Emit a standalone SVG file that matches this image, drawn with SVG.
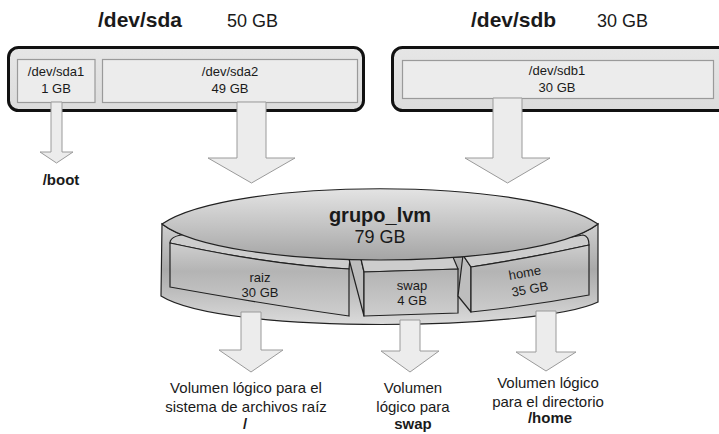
<svg xmlns="http://www.w3.org/2000/svg" width="719" height="434" viewBox="0 0 719 434">
<defs>
<linearGradient id="gSide" gradientUnits="userSpaceOnUse" x1="0" y1="224" x2="0" y2="332">
<stop offset="0" stop-color="#cfcfcf"/><stop offset="0.42" stop-color="#a9a9a9"/><stop offset="1" stop-color="#e2e2e2"/>
</linearGradient>
<linearGradient id="gBox" gradientUnits="userSpaceOnUse" x1="0" y1="240" x2="0" y2="318">
<stop offset="0" stop-color="#d2d2d2"/><stop offset="0.4" stop-color="#b4b4b4"/><stop offset="1" stop-color="#cfcfcf"/>
</linearGradient>
<linearGradient id="gTop" gradientUnits="userSpaceOnUse" x1="0" y1="188" x2="0" y2="262">
<stop offset="0" stop-color="#e4e4e4"/><stop offset="0.5" stop-color="#c4c4c4"/><stop offset="1" stop-color="#a3a3a3"/>
</linearGradient>
<linearGradient id="gDisk" x1="0" y1="0" x2="0" y2="1">
<stop offset="0" stop-color="#e6e6e6"/><stop offset="1" stop-color="#dcdcdc"/>
</linearGradient>
</defs>
<style>
text{font-family:"Liberation Sans",Arial,sans-serif;fill:#1a1a1a}
.b{font-weight:bold}
.m{text-anchor:middle}
.disk{fill:url(#gDisk);stroke:#111;stroke-width:3}
.part{fill:#ececec;stroke:#9a9a9a;stroke-width:1.2}
.arr{fill:#ececec;stroke:#9a9a9a;stroke-width:1}
</style>

<g id="disk-sda">
<rect class="disk" x="8.5" y="47.5" width="355" height="63" rx="10"/>
<text class="b" x="98" y="27" font-size="21">/dev/sda</text>
<text x="227" y="27" font-size="18">50 GB</text>
</g>
<g id="sda1">
<rect class="part" x="17.5" y="59.5" width="77.5" height="43"/>
<text class="m" x="56" y="76" font-size="13">/dev/sda1</text>
<text class="m" x="56" y="93" font-size="13">1 GB</text>
</g>
<g id="sda2">
<rect class="part" x="102.5" y="59.5" width="255" height="43"/>
<text class="m" x="230" y="76" font-size="13">/dev/sda2</text>
<text class="m" x="230" y="93" font-size="13">49 GB</text>
</g>

<g id="disk-sdb">
<rect class="disk" x="392.5" y="47.5" width="340" height="63" rx="10"/>
<text class="b" x="471" y="27" font-size="21">/dev/sdb</text>
<text x="597" y="27" font-size="18">30 GB</text>
</g>
<g id="sdb1">
<rect class="part" x="402.5" y="60.5" width="311" height="38"/>
<text class="m" x="557" y="75" font-size="13">/dev/sdb1</text>
<text class="m" x="557" y="92" font-size="13">30 GB</text>
</g>

<g id="grupo_lvm">
<path d="M162,224 C225,272 535,272 598,224 L598,302 C540,330 225,336 161,296 Z" fill="url(#gSide)" stroke="#222" stroke-width="1.2"/>
</g>

<g id="lv-raiz">
<path d="M170,243 C170,236 180,234 195,234 L350,258 L349,269 Q270,265 170,243 Z" fill="#cdcdcd" stroke="#222" stroke-width="1.2"/>
<path d="M170,243 Q270,265 349,269 L349,316 Q270,305 170,287 Z" fill="url(#gBox)" stroke="#222" stroke-width="1.2"/>
<text class="m" x="260" y="282" font-size="13">raiz</text>
<text class="m" x="260" y="297" font-size="13">30 GB</text>
</g>

<g id="lv-swap">
<path d="M349,259 L361,259 L364,272 L364,316 Z" fill="#bdbdbd" stroke="#222" stroke-width="1.2" stroke-linejoin="round"/>
<path d="M361,259 L453,257 L458,269 L364,272 Z" fill="#cdcdcd" stroke="#222" stroke-width="1.2"/>
<path d="M364,272 L458,269 L458,313 L364,316 Z" fill="url(#gBox)" stroke="#222" stroke-width="1.2"/>
<text class="m" x="412" y="290" font-size="13">swap</text>
<text class="m" x="412" y="305" font-size="13">4 GB</text>
</g>

<g id="lv-home">
<path d="M463,255 L471,267 L471,312 L458,296 Z" fill="#bdbdbd" stroke="#222" stroke-width="1.2" stroke-linejoin="round"/>
<path d="M463,255 Q520,247 583,235 Q589,236 589,245 Q530,258 471,267 Z" fill="#cdcdcd" stroke="#222" stroke-width="1.2"/>
<path d="M471,267 Q530,258 589,245 L589,295 Q530,306 471,312 Z" fill="url(#gBox)" stroke="#222" stroke-width="1.2"/>
<text class="m" transform="rotate(-10 527 285)" x="527" y="277" font-size="13">home</text>
<text class="m" transform="rotate(-10 527 285)" x="529" y="294" font-size="13">35 GB</text>
</g>

<g id="lvm-top">
<path d="M162,224 C230,177 530,177 598,224 C535,272 225,272 162,224 Z" fill="url(#gTop)" stroke="#222" stroke-width="1.2"/>
<text class="b m" x="380" y="222" font-size="20">grupo_lvm</text>
<text class="m" x="380" y="243" font-size="18">79 GB</text>
</g>

<g id="connectors">
<path class="arr" d="M51,102 L62,102 L62,152 L73,152 L56.5,163 L40,152 L51,152 Z"/>
<path class="arr" d="M237,102 L266,102 L266,158 L295,158 L251.5,183 L208,158 L237,158 Z"/>
<path class="arr" d="M493,98 L522,98 L522,158 L550,158 L507.5,183 L465,158 L493,158 Z"/>
<path class="arr" d="M241,312 L261,312 L261,350 L283,350 L251,372 L219,350 L241,350 Z"/>
<path class="arr" d="M400,320 L420,320 L420,351 L439,351 L410,372 L381,351 L400,351 Z"/>
<path class="arr" d="M536,311 L556,311 L556,352 L576,352 L546,371 L516,352 L536,352 Z"/>
</g>

<g id="label-boot">
<text class="b m" x="61" y="185" font-size="15">/boot</text>
</g>
<g id="label-raiz">
<text class="m" x="246" y="393" font-size="15">Volumen lógico para el</text>
<text class="m" x="246" y="412" font-size="15">sistema de archivos raíz</text>
<text class="b m" x="245" y="429" font-size="15">/</text>
</g>
<g id="label-swap">
<text class="m" x="413" y="393" font-size="15">Volumen</text>
<text class="m" x="413" y="412" font-size="15">lógico para</text>
<text class="b m" x="413" y="429" font-size="15">swap</text>
</g>
<g id="label-home">
<text class="m" x="548" y="388" font-size="15">Volumen lógico</text>
<text class="m" x="548" y="407" font-size="15">para el directorio</text>
<text class="b m" x="550" y="423" font-size="15">/home</text>
</g>
</svg>
